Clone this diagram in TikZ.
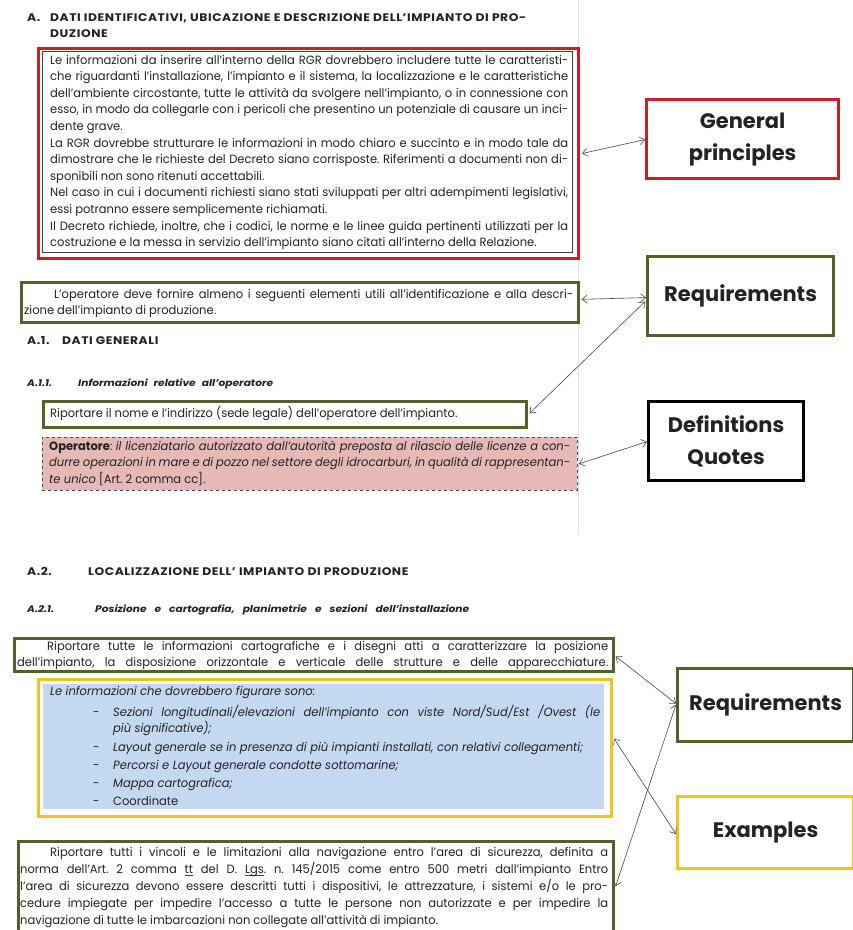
\documentclass[tikz,border=0pt]{standalone}
\usepackage{fontspec}
\setmainfont{Poppins}[FakeStretch=0.96]
\newfontfamily\hdfont{Poppins}[FakeStretch=1.12, LetterSpace=5]
\newfontfamily\sbfont{Poppins}[FakeStretch=1.12]
\newfontfamily\lblfont{Poppins}
\usetikzlibrary{arrows.meta,calc}
\definecolor{rgbred}{RGB}{204,30,40}
\definecolor{dkgreen}{RGB}{79,98,40}
\definecolor{ylw}{RGB}{240,196,30}
\definecolor{bluefill}{RGB}{197,216,241}
\definecolor{pinkfill}{RGB}{230,184,183}
\definecolor{inkc}{RGB}{35,35,35}
\newcommand\wsA{\spaceskip=6pt plus 1pt\relax}
\newcommand\wsB{\spaceskip=8pt plus 1pt\relax}
\newcommand\redul[1]{\setbox0\hbox{#1}\rlap{\color{red!85!black}\rule[-2.6pt]{\wd0}{0.7pt}}\box0\relax}
\frenchspacing
\tolerance=9999
\hyphenpenalty=10000
\emergencystretch=3em
\begin{document}
\begin{tikzpicture}[x=1pt,y=-1pt,
  frame/.style={draw, rectangle, inner sep=0pt, anchor=north west},
  redframe/.style={frame, draw=rgbred, line width=3pt},
  grframe/.style={frame, draw=dkgreen, line width=2.6pt},
  yframe/.style={frame, draw=ylw, line width=3pt},
  body/.style={inner sep=0pt, anchor=base west, align=justify, text=inkc, font=\fontsize{12}{16.6}\selectfont},
  head/.style={inner sep=0pt, anchor=base west, align=left, text=inkc, font=\hdfont\bfseries\fontsize{11}{15}\selectfont},
  subhead/.style={inner sep=0pt, anchor=base west, align=left, text=inkc, font=\sbfont\bfseries\itshape\fontsize{9.5}{15}\selectfont},
  lbl/.style={inner sep=0pt, align=center, text=inkc, font=\lblfont\bfseries\fontsize{21}{32}\selectfont},
  conn/.style={draw=black!72, line width=0.6pt, {Straight Barb[length=5pt,width=8pt]}-{Straight Barb[length=5pt,width=8pt]}}
]
\useasboundingbox (0,0) rectangle (853,930);
\fill[white] (0,0) rectangle (853,930);
\draw[black!12, line width=1pt] (578,0) -- (578,535);

% ---------- headings ----------
\node[head] (hA) at (27,21) {A.};
\node[head] (hAt) at (50,21) {DATI IDENTIFICATIVI, UBICAZIONE E DESCRIZIONE DELL’IMPIANTO DI PRO-};
\node[head] (hAt2) at (50,37) {DUZIONE};

% ---------- general principles box ----------
\node[redframe, minimum width=540pt, minimum height=210pt] (redbox) at (37,47) {};
\node[frame, draw=black!75, line width=0.8pt, minimum width=530pt, minimum height=201pt] (redin) at (42,51) {};
\node[body, text width=518pt] (tred) at (50,64) {Le informazioni da inserire all’interno della RGR dovrebbero includere tutte le caratteristi-\linebreak che riguardanti l’installazione, l’impianto e il sistema, la localizzazione e le caratteristiche\linebreak dell’ambiente circostante, tutte le attività da svolgere nell’impianto, o in connessione con\linebreak esso, in modo da collegarle con i pericoli che presentino un potenziale di causare un inci-\linebreak dente grave.\par
La RGR dovrebbe strutturare le informazioni in modo chiaro e succinto e in modo tale da\linebreak dimostrare che le richieste del Decreto siano corrisposte. Riferimenti a documenti non di-\linebreak sponibili non sono ritenuti accettabili.\par
Nel caso in cui i documenti richiesti siano stati sviluppati per altri adempimenti legislativi,\linebreak essi potranno essere semplicemente richiamati.\par
Il Decreto richiede, inoltre, che i codici, le norme e le linee guida pertinenti utilizzati per la\linebreak costruzione e la messa in servizio dell’impianto siano citati all’interno della Relazione.};

% ---------- operatore box ----------
\node[grframe, minimum width=557pt, minimum height=40pt] (opbox) at (20,281) {};
\node[body, text width=549pt] (top) at (24,298) {\hspace*{30pt}L’operatore deve fornire almeno i seguenti elementi utili all’identificazione e alla descri-\linebreak zione dell’impianto di produzione.};

\node[head] (hA1) at (27,344) {A.1.};
\node[head] (hA1t) at (62,344) {DATI GENERALI};
\node[subhead] (hA11) at (27,386) {A.1.1.};
\node[subhead] (hA11t) at (78,386) {\wsA Informazioni relative all’operatore};

\node[grframe, minimum width=483pt, minimum height=26pt] (nomebox) at (42,400) {};
\node[body] (tnome) at (50,417) {Riportare il nome e l’indirizzo (sede legale) dell’operatore dell’impianto.};

\node[frame, draw=black!70, dashed, line width=0.8pt, fill=pinkfill, minimum width=535pt, minimum height=53pt] (pinkbox) at (42,437) {};
\node[body, text width=521pt] (tpink) at (49,450) {\textbf{Operatore}: \textit{il licenziatario autorizzato dall’autorità preposta al rilascio delle licenze a con-\linebreak durre operazioni in mare e di pozzo nel settore degli idrocarburi, in qualità di rappresentan-\linebreak te unico} [Art. 2 comma cc].};

% ---------- A.2 ----------
\node[head] (hA2) at (27,575) {A.2.};
\node[head] (hA2t) at (88,575) {LOCALIZZAZIONE DELL’ IMPIANTO DI PRODUZIONE};
\node[subhead] (hA21) at (27,612) {A.2.1.};
\node[subhead] (hA21t) at (95,612) {\wsB Posizione e cartografia, planimetrie e sezioni dell’installazione};

\node[grframe, minimum width=599pt, minimum height=33pt] (posbox) at (13,637) {};
\node[body, text width=591pt, font=\fontsize{12}{16}\selectfont] (tpos) at (17,650) {\hspace*{30pt}Riportare tutte le informazioni cartografiche e i disegni atti a caratterizzare la posizione\linebreak \makebox[591pt][s]{dell’impianto, la disposizione orizzontale e verticale delle strutture e delle apparecchiature.}};

\node[yframe, minimum width=573pt, minimum height=137pt] (ybox) at (37,678) {};
\node[frame, draw=none, fill=bluefill, minimum width=561pt, minimum height=125pt] (bluebox) at (43,684) {};
\node[body] (tbl0) at (50,695) {\textit{Le informazioni che dovrebbero figurare sono:}};
\node[body] (d1) at (93,716) {-};
\node[body, text width=487pt] (tbl1) at (113,716) {\textit{Sezioni longitudinali/elevazioni dell’impianto con viste Nord/Sud/Est /Ovest (le\linebreak più significative);}};
\node[body] (d2) at (93,751) {-};
\node[body] (tbl2) at (113,751) {\textit{Layout generale se in presenza di più impianti installati, con relativi collegamenti;}};
\node[body] (d3) at (93,769) {-};
\node[body] (tbl3) at (113,769) {\textit{Percorsi e Layout generale condotte sottomarine;}};
\node[body] (d4) at (93,787) {-};
\node[body] (tbl4) at (113,787) {\textit{Mappa cartografica;}};
\node[body] (d5) at (93,805) {-};
\node[body] (tbl5) at (113,805) {Coordinate};

\node[grframe, minimum width=595pt, minimum height=90pt] (botbox) at (17,840) {};
\node[body, text width=588pt, font=\fontsize{12}{17}\selectfont] (tbot) at (20,856) {\hspace*{30pt}Riportare tutti i vincoli e le limitazioni alla navigazione entro l’area di sicurezza, definita a\linebreak norma dell’Art. 2 comma \redul{tt} del D. \redul{Lgs}. n. 145/2015 come entro 500 metri dall’impianto Entro\linebreak l’area di sicurezza devono essere descritti tutti i dispositivi, le attrezzature, i sistemi e/o le pro-\linebreak cedure impiegate per impedire l’accesso a tutte le persone non autorizzate e per impedire la\linebreak navigazione di tutte le imbarcazioni non collegate all’attività di impianto.};

% ---------- right labels ----------
\node[redframe, line width=3.2pt, minimum width=192pt, minimum height=79pt] (gp) at (645,98) {};
\node[lbl] (gpt) at (gp.center) {General\\principles};
\node[grframe, line width=3.2pt, minimum width=186pt, minimum height=79pt] (req1) at (646,255) {};
\node[lbl] (req1t) at (req1.center) {Requirements};
\node[frame, draw=black, line width=3.2pt, minimum width=155pt, minimum height=79pt] (defq) at (647,400) {};
\node[lbl] (defqt) at (defq.center) {Definitions\\Quotes};
\node[grframe, line width=3.2pt, minimum width=176pt, minimum height=73pt] (req2) at (676,667) {};
\node[lbl] (req2t) at (req2.center) {Requirements};
\node[yframe, line width=3.2pt, minimum width=176pt, minimum height=72pt] (exb) at (676,795) {};
\node[lbl] (exbt) at (exb.center) {Examples};

% ---------- connectors ----------
\draw[conn] ([xshift=2pt]redbox.east) -- ([yshift=-0.5pt]gp.west);
\draw[conn] ([xshift=2pt,yshift=3pt]opbox.east) -- ([yshift=-1.5pt]req1.west);
\draw[conn] ([xshift=2pt,yshift=1pt]nomebox.east) -- ([xshift=-1pt,yshift=-5.5pt]req1.west);
\draw[conn] ([xshift=1pt]pinkbox.east) -- ([yshift=-0.5pt]defq.west);
\draw[conn] ([xshift=1pt,yshift=-1.5pt]posbox.east) -- ([yshift=1.5pt]req2.west);
\draw[conn] ([xshift=1pt,yshift=9.5pt]ybox.east) -- ([yshift=-1.5pt]exb.west);
\draw[conn] ([xshift=1pt]botbox.east) -- ([yshift=0.5pt]req2.west);
\end{tikzpicture}
\end{document}
